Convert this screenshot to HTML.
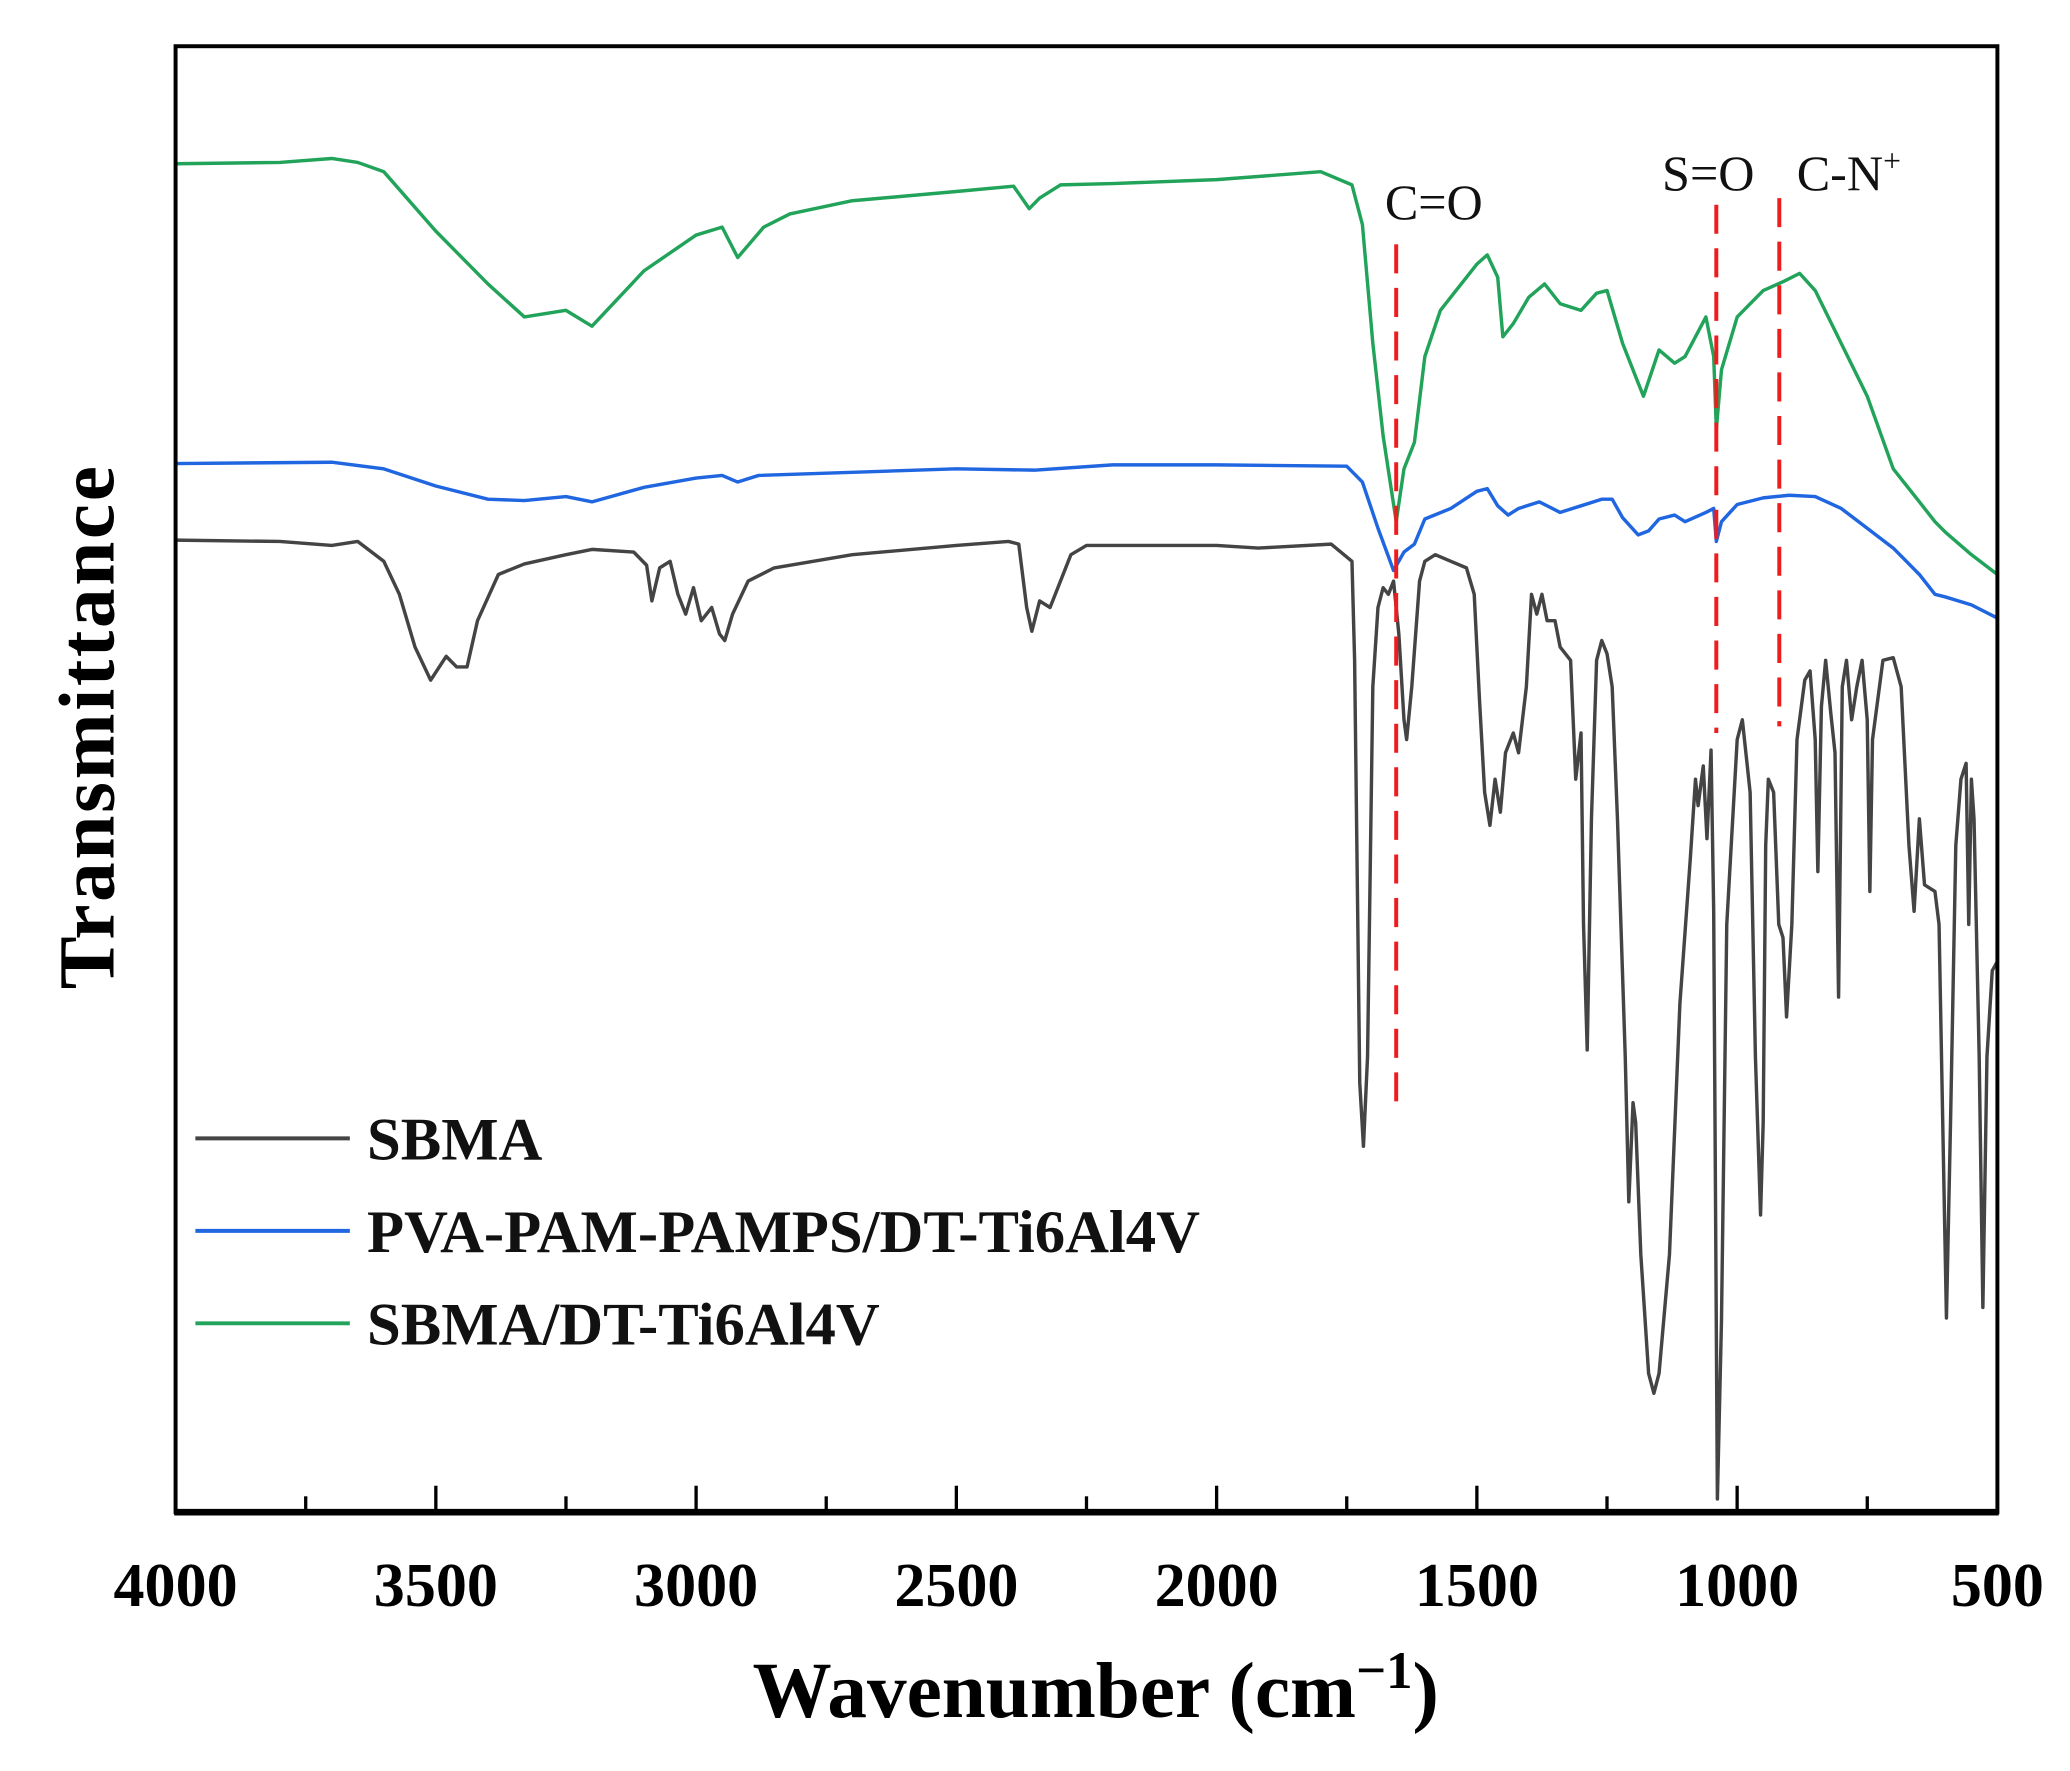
<!DOCTYPE html>
<html><head><meta charset="utf-8"><style>
html,body{margin:0;padding:0;background:#fff;}
svg{display:block;}
text{font-family:"Liberation Serif",serif;}
</style></head><body>
<svg id="chart" width="2070" height="1771" viewBox="0 0 1568 1341" preserveAspectRatio="none" xmlns="http://www.w3.org/2000/svg">
<g id="marks"></g>
</svg>
<script>
const xTicks = [4000,3500,3000,2500,2000,1500,1000,500];
const seriesNames = ["SBMA","PVA-PAM-PAMPS/DT-Ti6Al4V","SBMA/DT-Ti6Al4V"];
const seriesColors = ["#444444","#1f66e0","#22a35a"];
const greenWn = [4000,3800,3700,3650,3600,3500,3400,3330,3250,3200,3100,3000,2950,2920,2870,2820,2700,2500,2390,2360,2340,2300,2200,2000,1800,1740,1720,1700,1680,1655,1640,1620,1600,1570,1540,1500,1480,1460,1450,1430,1400,1370,1340,1300,1270,1250,1220,1190,1180,1150,1120,1100,1060,1045,1040,1030,1000,950,910,880,850,800,750,700,650,620,600,550,500];
const greenT = [1021,1022,1025,1022,1015,970,930,905,910,898,940,967,973,950,973,983,993,1000,1004,987,995,1005,1006,1009,1015,1005,975,885,815,750,790,810,875,910,925,945,952,935,890,900,920,930,915,910,923,925,885,855,845,880,870,875,905,875,820,865,905,925,932,938,925,885,845,790,765,750,742,725,710];
const blueWn = [4000,3700,3600,3500,3400,3330,3250,3200,3100,3000,2950,2920,2880,2500,2350,2200,2000,1750,1720,1690,1660,1640,1620,1600,1550,1500,1480,1460,1440,1420,1380,1340,1300,1260,1240,1220,1190,1170,1150,1120,1100,1060,1045,1040,1030,1000,950,900,850,800,750,700,650,620,600,550,500];
const blueT = [794,795,790,777,767,766,769,765,776,783,785,780,785,790,789,793,793,792,780,745,713,727,733,752,760,773,775,762,755,760,765,757,762,767,767,753,740,743,752,755,750,757,760,735,750,763,768,770,769,760,745,730,710,695,693,687,677];
const blackWn = [4000,3800,3700,3650,3600,3570,3540,3510,3480,3460,3440,3420,3380,3330,3250,3200,3120,3095,3085,3070,3050,3035,3020,3005,2990,2970,2955,2945,2930,2900,2850,2700,2500,2400,2380,2365,2355,2340,2320,2300,2280,2250,2000,1920,1780,1740,1735,1725,1718,1710,1700,1690,1680,1670,1660,1650,1640,1635,1625,1610,1600,1580,1550,1520,1505,1495,1485,1475,1465,1455,1445,1430,1420,1405,1395,1385,1375,1365,1350,1340,1320,1310,1300,1295,1288,1280,1270,1260,1250,1240,1230,1215,1208,1200,1195,1185,1170,1160,1150,1130,1110,1090,1080,1075,1065,1058,1050,1045,1038,1030,1020,1000,990,975,965,955,950,945,940,930,920,912,905,895,885,870,860,850,845,838,830,820,812,805,798,790,780,770,760,750,745,740,720,700,685,670,660,650,640,620,612,605,598,590,580,570,560,555,550,545,535,528,520,510,500];
const blackT = [736,735,732,735,720,695,655,630,648,640,640,675,710,718,725,729,727,717,690,715,720,695,680,700,675,685,665,660,680,705,715,725,732,735,733,685,667,690,685,705,725,732,732,730,733,720,645,325,277,345,625,685,700,695,705,665,600,585,625,705,720,725,720,715,695,615,545,520,555,530,575,590,575,625,695,680,695,675,675,655,645,555,590,445,350,525,645,660,650,625,525,345,235,310,295,195,105,90,105,195,385,495,555,535,565,510,577,455,10,145,445,585,600,545,345,225,295,505,555,545,445,435,375,445,585,630,637,585,485,610,645,605,575,390,625,645,600,625,645,600,470,585,645,647,625,505,455,525,475,470,445,295,147,295,505,555,567,445,555,525,345,155,345,410,417];
const markerWn = [1655,1040,919];
const markerLabels = ["C=O","S=O","C-N"];

const NS="http://www.w3.org/2000/svg";
const L=133,R=1513,T=35,B=1145;
const xs=w=>L+(4000-w)/3500*(R-L);
const ys=v=>B-v;
const svg=document.getElementById('marks');
function mk(tag,attrs,parent){const e=document.createElementNS(NS,tag);for(const k in attrs)e.setAttribute(k,attrs[k]);(parent||svg).appendChild(e);return e;}

function drawSeries(wn,t,color,name){
  let d=wn.map((w,i)=>(i?'L':'M')+xs(w).toFixed(1)+','+ys(t[i]).toFixed(1)).join('');
  const p=mk('path',{d:d,fill:'none',stroke:color,'stroke-width':2.6,'stroke-linejoin':'round'});
  
  
}
drawSeries(greenWn,greenT,seriesColors[2],'series-sbma-dt-ti6al4v');
drawSeries(blueWn,blueT,seriesColors[1],'series-pva-pam-pamps');
drawSeries(blackWn,blackT,seriesColors[0],'series-sbma');

const mTop=[185,155,150],mBot=[840,555,550];
markerWn.forEach((w,i)=>{
  const l=mk('line',{x1:xs(w),x2:xs(w),y1:mTop[i],y2:mBot[i],stroke:'#ee1c1c','stroke-width':3,'stroke-dasharray':'22,11'});
  
  
});
const lblPos=[[1049,166],[1259,144],[1361,144]];
markerLabels.forEach((s,i)=>{
  const t=mk('text',{x:lblPos[i][0],y:lblPos[i][1],'font-size':38,fill:'#111'});
  t.textContent=s;
  if(i===2){const sp=mk('tspan',{dy:-14,'font-size':24},t);sp.textContent='+';}
  
  
});

const fr=mk('rect',{x:L,y:T,width:R-L,height:B-T,fill:'none',stroke:'#000','stroke-width':3});


mk('line',{x1:L-1,x2:R+1,y1:B,y2:B,stroke:'#000','stroke-width':5});
for(let w=4000;w>=500;w-=250){
  const major=(w%500===0);
  const tk=mk('line',{x1:xs(w),x2:xs(w),y1:B,y2:B-(major?20:12),stroke:'#000','stroke-width':2.5});
  
  
}
xTicks.forEach(w=>{
  const t=mk('text',{x:xs(w),y:1216,'font-size':47,'font-weight':'bold','text-anchor':'middle',fill:'#000'});
  t.textContent=w;
  
  
});
const xt=mk('text',{x:830,y:1300,'font-size':60,'font-weight':'bold','text-anchor':'middle',fill:'#000'});
xt.textContent='Wavenumber (cm';
const sup=mk('tspan',{dy:-22,'font-size':40},xt);sup.textContent='\u22121';
const cl=mk('tspan',{dy:22},xt);cl.textContent=')';


const yt=mk('text',{x:0,y:0,'font-size':60,'font-weight':'bold','letter-spacing':2,'text-anchor':'middle',fill:'#000',transform:'translate(86,550) rotate(-90)'});
yt.textContent='Transmittance';



const legY=[862,932,1002];
[0,1,2].forEach(i=>{
  const g=mk('g',{});
  
  
  mk('line',{x1:148,x2:265,y1:legY[i],y2:legY[i],stroke:seriesColors[i],'stroke-width':3},g);
  const t=mk('text',{x:278,y:legY[i]+16,'font-size':46,'font-weight':'bold',fill:'#111'},g);
  t.textContent=seriesNames[i];
});
</script>
</body></html>
